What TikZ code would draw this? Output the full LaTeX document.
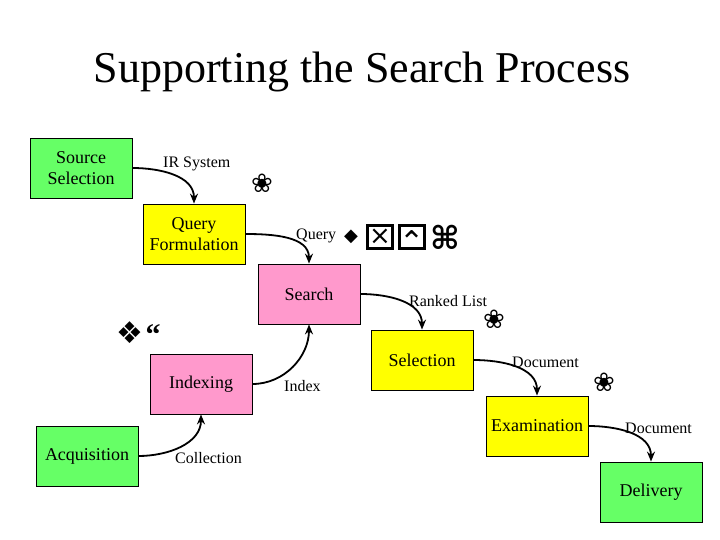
\documentclass[tikz,border=0pt]{standalone}
\usepackage{fontspec}
\setmainfont{Liberation Serif}
\newfontfamily\symfont{DejaVu Sans}
\usetikzlibrary{arrows.meta}
\definecolor{stagegreen}{RGB}{102,255,102}
\definecolor{stageyellow}{RGB}{255,255,0}
\definecolor{stagepink}{RGB}{255,153,204}
\tikzset{
      stage/.style={draw=black, line width=0.8, minimum width=102, minimum height=60,
            inner sep=0, align=center, font=\rmfamily\fontsize{18}{21}\selectfont},
      greenstage/.style={stage, fill=stagegreen},
      yellowstage/.style={stage, fill=stageyellow},
      pinkstage/.style={stage, fill=stagepink},
      flow/.style={draw=black, line width=1.8, -{Stealth[length=10,width=8]}},
      flowlabel/.style={anchor=west, inner sep=0, font=\rmfamily\fontsize{16}{18}\selectfont},
      flower/.style={inner sep=0, font=\symfont\fontsize{26}{26}\selectfont},
      glyphbox/.style={draw=black, line width=2.4, minimum width=25, minimum height=23, inner sep=0},
}

\begin{document}
\begin{tikzpicture}[x=1pt, y=-1pt]
        \useasboundingbox (0,0) rectangle (720,540);

        \node[font=\rmfamily\fontsize{44}{50}\selectfont] (title) at (362,72) {Supporting the Search Process};

        % the stages
        \node[greenstage]  (source) at (81,168)  {Source\\Selection};
        \node[yellowstage] (query)  at (194,234) {Query\\Formulation};
        \node[pinkstage]   (search) at (309,294) {Search};
        \node[yellowstage] (select) at (422,360) {Selection};
        \node[pinkstage]   (index)  at (201,384) {Indexing};
        \node[yellowstage] (exam)   at (537,426) {Examination};
        \node[greenstage]  (acq)    at (87,456)  {Acquisition};
        \node[greenstage]  (deliv)  at (651,492) {Delivery};

        % the flows
        \draw[flow] (source.east) to[out=0, in=90] (query.north);
        \draw[flow] (query.east)  to[out=0, in=90] (search.north);
        \draw[flow] (search.east) to[out=0, in=90] (select.north);
        \draw[flow] (select.east) to[out=0, in=90] (exam.north);
        \draw[flow] (exam.east)   to[out=0, in=90] (deliv.north);
        \draw[flow] (acq.east)    to[out=0, in=-90] (index.south);
        \draw[flow] (index.east)  to[out=0, in=-90] (search.south);

        \node[flowlabel] (irsys)  at (163,164) {IR System};
        \node[flowlabel] (qlab)   at (296,236) {Query};
        \node[flowlabel] (ranked) at (409,301) {Ranked List};
        \node[flowlabel] (doc1)   at (512,362) {Document};
        \node[flowlabel] (doc2)   at (625,428) {Document};
        \node[flowlabel] (idxlab) at (284,386) {Index};
        \node[flowlabel] (coll)   at (175,458) {Collection};

        % stray symbols
        \node[flower] (fl1) at (262,183) {❀};
        \node[flower] (fl2) at (494,319) {❀};
        \node[flower] (fl3) at (604,382) {❀};
        \node[inner sep=0, font=\symfont\fontsize{18}{18}\selectfont] (dia) at (351,237) {◆};
        \node[glyphbox, font=\symfont\fontsize{26}{26}\selectfont] (boxx) at (380,237) {×};
        \node[glyphbox, font=\symfont\fontsize{30}{30}\selectfont] (boxup) at (412,237)
              {\makebox[0pt]{\raisebox{-15pt}[0pt][0pt]{⌃}}};
        \node[inner sep=0, font=\symfont\bfseries\fontsize{32}{32}\selectfont] (cmd) at (445,237) {⌘};
        \node[inner sep=0, font=\symfont\fontsize{30}{30}\selectfont] (dias) at (130,333) {❖};
        \node[inner sep=0, font=\rmfamily\bfseries\fontsize{30}{30}\selectfont] (quote) at (153,335) {“};
\end{tikzpicture}
\end{document}
